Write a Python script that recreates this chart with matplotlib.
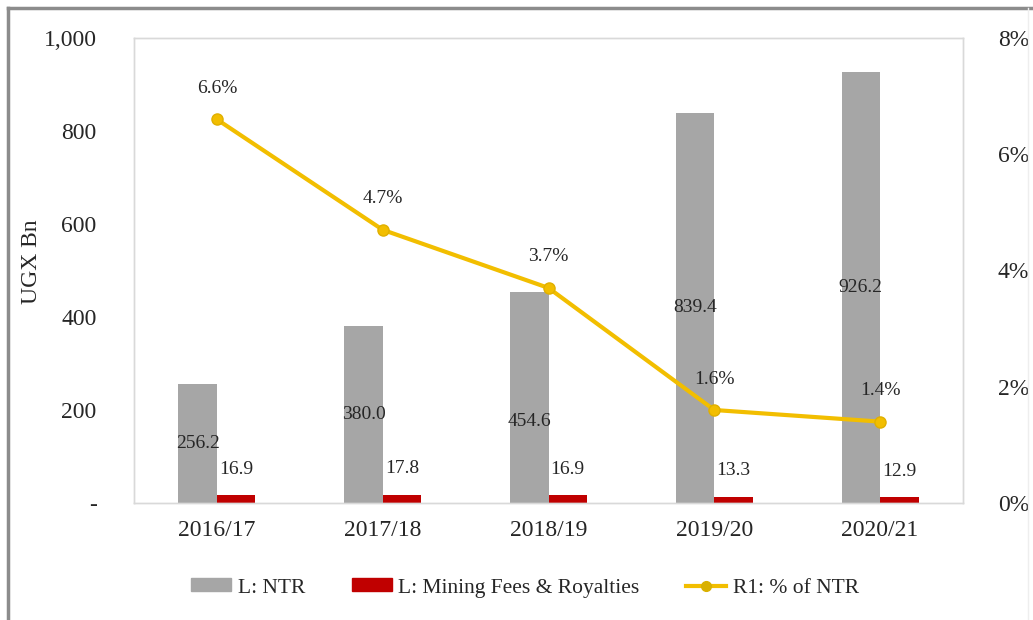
import matplotlib
matplotlib.use("Agg")
import matplotlib.pyplot as plt
from matplotlib.patches import Rectangle
from matplotlib.lines import Line2D
from matplotlib.ticker import FixedLocator
import numpy as np

categories = ["2016/17", "2017/18", "2018/19", "2019/20", "2020/21"]
ntr = [256.2, 380.0, 454.6, 839.4, 926.2]
mining = [16.9, 17.8, 16.9, 13.3, 12.9]
pct_ntr = [6.6, 4.7, 3.7, 1.6, 1.4]
left_ticks = [0, 200, 400, 600, 800, 1000]
left_tick_labels = ["-", "200", "400", "600", "800", "1,000"]
right_ticks = [0, 2, 4, 6, 8]
right_tick_labels = ["0%", "2%", "4%", "6%", "8%"]
ntr_label_frac = [0.5, 0.5, 0.385, 0.5, 0.5]

plt.rcParams['font.family'] = ['Liberation Serif', 'DejaVu Serif']
TXT = "#262626"
GRAY = "#A6A6A6"
RED = "#C00000"
GOLD = "#F2BE00"

fig = plt.figure(figsize=(10.33, 6.2), dpi=100)
ax = fig.add_axes([134/1033, 1-503/620, (963-134)/1033, (503-38)/620])
ax2 = ax.twinx()

x = np.arange(len(categories))
w = 0.232
ax.bar(x - w/2, ntr, width=w, color=GRAY, zorder=2)
ax.bar(x + w/2, mining, width=w, color=RED, zorder=2)

for i in range(len(categories)):
    ax.text(x[i] - w/2, ntr[i]*ntr_label_frac[i], f"{ntr[i]:.1f}", ha="center", va="center",
            fontsize=14, color=TXT, zorder=5)
    ax.annotate(f"{mining[i]:.1f}", (x[i] + w/2, mining[i]), xytext=(0, 26), textcoords="offset pixels",
                ha="center", va="center", fontsize=14, color=TXT)

ax2.plot(x, pct_ntr, color=GOLD, lw=3, marker="o", ms=8, mfc=GOLD, mec="#E0B000", zorder=4,
         solid_joinstyle="round")
for i in range(len(categories)):
    ax2.annotate(f"{pct_ntr[i]:.1f}%", (x[i], pct_ntr[i]), xytext=(0, 31), textcoords="offset pixels",
                 ha="center", va="center", fontsize=14, color=TXT)

ax.set_xlim(-0.5, len(categories) - 0.5)
ax.set_ylim(0, 1000)
ax2.set_ylim(0, 8)
ax.yaxis.set_major_locator(FixedLocator(left_ticks))
ax.set_yticklabels(left_tick_labels)
ax2.yaxis.set_major_locator(FixedLocator(right_ticks))
ax2.set_yticklabels(right_tick_labels)
ax.set_xticks(x)
ax.set_xticklabels(categories)
ax.tick_params(axis="y", length=0, pad=27, labelsize=17, labelcolor=TXT)
ax2.tick_params(axis="y", length=0, pad=25, labelsize=17, labelcolor=TXT)
ax.tick_params(axis="x", length=0, pad=12, labelsize=17, labelcolor=TXT)
ax.set_ylabel("UGX Bn", fontsize=17, color=TXT)
ax.yaxis.set_label_coords(-92/829, 0.518)

for a in (ax, ax2):
    for s in a.spines.values():
        s.set_color("#D9D9D9")
        s.set_linewidth(1)

handles = [Rectangle((0, 0), 1, 1, color=GRAY),
           Rectangle((0, 0), 1, 1, color=RED),
           Line2D([], [], color=GOLD, lw=3, marker="o", ms=7, mfc="#D9B000", mec="#D9B000")]
labels = ["L: NTR", "L: Mining Fees & Royalties", "R1: % of NTR"]
fs_leg = 15.5
px = fs_leg * 100 / 72
fig.legend(handles, labels, loc="center", bbox_to_anchor=(525/1033, 1-588/620), ncol=3,
           frameon=False, fontsize=fs_leg, handlelength=40/px, handleheight=0.55, handletextpad=7/px,
           columnspacing=46/px, labelcolor=TXT)

# outer frame
fig.add_artist(Line2D([8/1033, 8/1033], [1-8/620, 0], transform=fig.transFigure, color="#8C8C8C", lw=2.5))
fig.add_artist(Line2D([8/1033, 1], [1-8/620, 1-8/620], transform=fig.transFigure, color="#8C8C8C", lw=2.5))
fig.add_artist(Line2D([1028/1033, 1028/1033], [1-8/620, 0], transform=fig.transFigure, color="#EEEEEE", lw=1))

fig.savefig("out.png", dpi=100)
